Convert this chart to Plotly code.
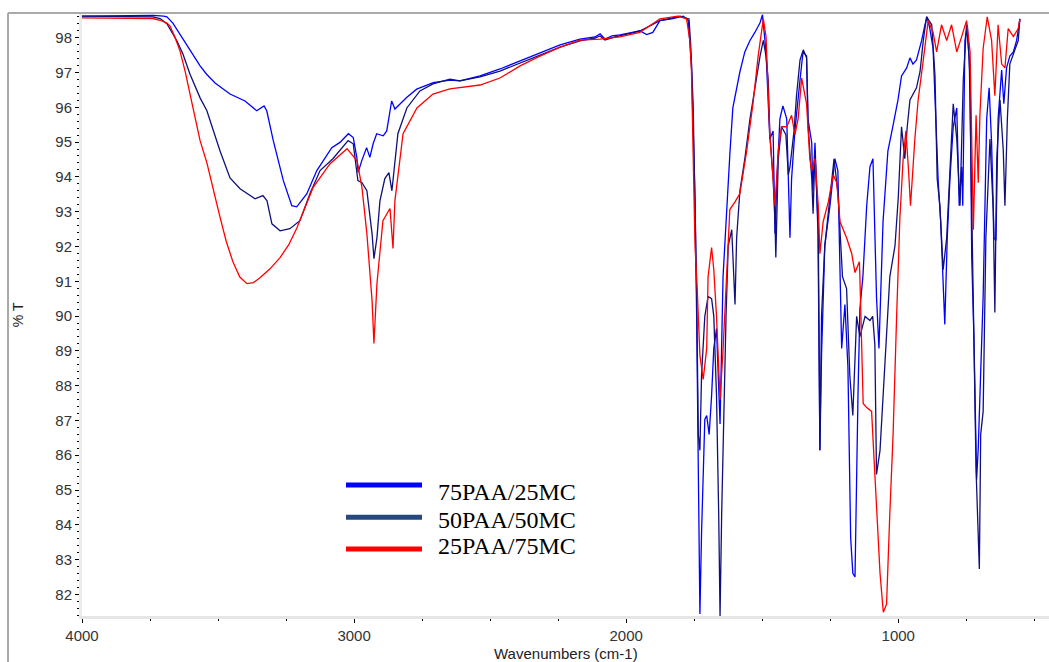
import plotly.graph_objects as go

# ---------------- data (wavenumber cm-1, %T) ----------------
wn_75 = [4000, 3787, 3739, 3700, 3688, 3666, 3640, 3614, 3566, 3542, 3511, 3456, 3401, 3358, 3331, 3321, 3297, 3260, 3229, 3211,
         3174, 3137, 3082, 3052, 3021, 3003, 2990, 2985, 2972, 2954, 2942, 2930, 2917, 2893, 2880,
         2862, 2850, 2807, 2770, 2709, 2648, 2611, 2537, 2464, 2390, 2317, 2243, 2170, 2115, 2096,
         2078, 2052, 2023, 1986, 1950, 1925, 1902, 1876, 1833, 1790, 1772, 1760, 1747, 1741, 1735,
         1729, 1723, 1711, 1704, 1695, 1686, 1678, 1668, 1655, 1644, 1631, 1619, 1608, 1594, 1582,
         1564, 1545, 1527, 1508, 1499, 1486, 1472, 1460, 1453, 1447, 1435, 1424, 1410, 1398, 1392,
         1380, 1361, 1350, 1337, 1332, 1318, 1314, 1306, 1295, 1288, 1282, 1270, 1251, 1233, 1222,
         1208, 1196, 1185, 1175, 1167, 1159, 1148, 1141, 1130, 1116, 1104, 1093, 1080, 1071, 1056,
         1038, 1020, 1001, 988, 969, 957, 946, 933, 914, 902, 894, 884, 872, 862, 853,
         844, 835, 829, 820, 810, 798, 785, 776, 767, 763, 755, 746, 736, 730, 722,
         712, 706, 697, 688, 675, 666, 657, 648, 641, 633, 620, 612, 602, 590, 577,
         565, 553]
t_75 = [98.62, 98.64, 98.64, 98.62, 98.60, 98.42, 98.10, 97.82, 97.19, 96.95, 96.70, 96.38, 96.18, 95.90, 96.04, 95.90, 95.04, 93.89, 93.17, 93.14,
        93.51, 94.18, 94.84, 94.99, 95.24, 95.13, 94.56, 94.13, 94.46, 94.84, 94.56, 94.95, 95.24, 95.18, 95.32,
        96.18, 95.95, 96.28, 96.52, 96.71, 96.78, 96.76, 96.90, 97.10, 97.33, 97.56, 97.79, 97.96, 98.02, 98.11,
        97.96, 98.05, 98.08, 98.14, 98.20, 98.09, 98.15, 98.49, 98.54, 98.62, 98.49, 97.24, 93.40, 89.99, 84.88,
        81.44, 83.76, 87.03, 87.14, 86.60, 87.72, 89.07, 89.64, 86.90, 91.13, 93.17, 94.64, 95.98, 96.56, 97.02,
        97.59, 97.92, 98.15, 98.43, 98.66, 97.59, 95.09, 95.32, 92.37, 93.74, 95.67, 96.04, 95.67, 92.25, 93.95,
        95.32, 96.79, 97.59, 97.47, 95.67, 94.98, 93.60, 94.98, 92.37, 86.14, 88.87, 92.02, 93.17, 94.52, 94.18,
        89.07, 90.33, 88.52, 83.64, 82.61, 82.50, 87.72, 90.21, 91.13, 93.17, 94.29, 94.52, 90.56, 89.07, 92.71,
        94.75, 95.44, 96.21, 96.90, 97.13, 97.42, 97.24, 97.36, 97.92, 98.37, 98.60, 98.26, 97.69, 95.67, 93.83,
        92.71, 91.13, 89.76, 92.25, 93.95, 95.44, 95.98, 93.17, 94.29, 93.17, 97.92, 98.37, 96.79, 91.68, 89.41,
        85.30, 86.20, 88.40, 90.56, 95.67, 96.56, 94.98, 92.25, 92.17, 95.67, 97.07, 96.10, 97.13, 97.47, 97.59,
        97.92, 98.54]

wn_50 = [4000, 3787, 3739, 3713, 3688, 3666, 3651, 3629, 3603, 3566, 3541, 3493, 3456, 3419, 3364, 3335, 3320, 3302, 3272,
         3236, 3199, 3162, 3125, 3078, 3052, 3022, 3003, 2986, 2971, 2953, 2934, 2927, 2916, 2905,
         2887, 2872, 2861, 2853, 2839, 2806, 2758, 2710, 2648, 2611, 2537, 2464, 2390, 2317, 2243,
         2170, 2115, 2096, 2078, 2041, 2005, 1950, 1876, 1802, 1769, 1763, 1754, 1747, 1741, 1735,
         1729, 1723, 1711, 1699, 1686, 1678, 1668, 1660, 1655, 1649, 1641, 1633, 1625, 1612, 1600,
         1594, 1582, 1564, 1545, 1527, 1508, 1496, 1486, 1478, 1472, 1460, 1453, 1450, 1441, 1429,
         1413, 1404, 1398, 1383, 1374, 1361, 1349, 1337, 1331, 1318, 1313, 1306, 1294, 1288, 1282,
         1270, 1251, 1236, 1221, 1212, 1205, 1190, 1178, 1167, 1153, 1141, 1122, 1104, 1094, 1086,
         1080, 1067, 1055, 1031, 1012, 1000, 988, 976, 967, 957, 933, 920, 908, 896, 877,
         865, 857, 847, 835, 822, 810, 798, 785, 773, 761, 749, 739, 730, 722, 714,
         702, 697, 688, 678, 663, 651, 645, 638, 626, 614, 608, 599, 590, 571, 559,
         553]
t_50 = [98.62, 98.62, 98.60, 98.55, 98.40, 98.11, 97.90, 97.53, 96.95, 96.27, 95.90, 94.75, 93.97, 93.66, 93.37, 93.46, 93.31, 92.65, 92.45,
        92.51, 92.74, 93.52, 94.18, 94.52, 94.75, 95.04, 94.95, 93.89, 93.83, 93.60, 92.37, 91.65, 92.25, 93.31,
        93.95, 94.12, 93.60, 94.26, 95.24, 95.98, 96.47, 96.67, 96.81, 96.76, 96.87, 97.04, 97.27, 97.50, 97.73,
        97.91, 97.99, 98.05, 97.93, 98.02, 98.08, 98.19, 98.49, 98.62, 98.54, 97.82, 96.10, 93.40, 90.67, 86.60,
        86.14, 88.29, 89.99, 90.56, 90.50, 89.99, 87.72, 84.33, 81.38, 84.33, 87.72, 89.99, 92.02, 92.48, 90.33,
        92.25, 93.60, 94.52, 95.67, 96.56, 97.47, 97.92, 97.47, 96.79, 95.21, 93.95, 92.71, 91.68, 94.52, 95.44,
        95.21, 94.06, 94.29, 95.32, 96.33, 97.36, 97.65, 97.42, 95.44, 93.95, 92.94, 94.75, 92.48, 86.14, 89.99,
        92.02, 93.40, 94.52, 93.49, 92.02, 91.13, 90.79, 88.29, 87.14, 89.99, 89.41, 89.99, 89.87, 89.99, 89.18,
        85.45, 86.14, 87.72, 91.13, 92.02, 93.40, 95.44, 94.52, 95.44, 96.21, 96.56, 97.02, 97.92, 98.60, 98.37,
        96.90, 93.95, 93.17, 91.33, 92.25, 94.18, 96.10, 95.09, 93.17, 96.79, 98.37, 97.36, 92.83, 88.29, 85.57,
        82.73, 86.60, 87.26, 92.25, 95.09, 93.06, 90.10, 94.52, 96.21, 94.75, 93.17, 95.67, 97.24, 97.69, 97.92,
        98.54]

wn_25 = [4000, 3787, 3739, 3713, 3688, 3677, 3660, 3640, 3620, 3603, 3585, 3566, 3541, 3517, 3493, 3470, 3445, 3420, 3394, 3370, 3346, 3310, 3272, 3240, 3210, 3151, 3089, 3026,
         2989, 2971, 2953, 2934, 2927, 2916, 2894, 2868, 2857, 2850, 2820, 2769, 2710, 2648, 2611,
         2537, 2464, 2390, 2317, 2243, 2170, 2096, 2023, 1950, 1876, 1810, 1778, 1766, 1760, 1754,
         1747, 1739, 1729, 1717, 1704, 1699, 1686, 1678, 1668, 1655, 1645, 1631, 1619, 1600, 1582,
         1557, 1534, 1515, 1496, 1486, 1472, 1460, 1453, 1441, 1429, 1410, 1392, 1380, 1368, 1355,
         1337, 1325, 1318, 1306, 1294, 1288, 1276, 1257, 1239, 1226, 1214, 1190, 1171, 1159, 1143,
         1141, 1129, 1116, 1098, 1086, 1067, 1055, 1043, 1031, 1019, 1006, 994, 982, 972, 963,
         955, 939, 927, 908, 890, 872, 859, 841, 822, 804, 785, 767, 749, 736, 724,
         714, 706, 700, 688, 673, 657, 645, 633, 620, 608, 596, 577, 559, 553]
t_25 = [98.57, 98.57, 98.55, 98.50, 98.42, 98.34, 98.05, 97.62, 97.00, 96.38, 95.75, 95.04, 94.40, 93.60, 92.85, 92.15, 91.55, 91.12, 90.93, 90.96, 91.10, 91.35, 91.68, 92.05, 92.54, 93.69, 94.37, 94.81,
        94.46, 93.69, 92.37, 90.45, 89.21, 90.93, 92.74, 93.09, 91.94, 93.31, 95.24, 95.98, 96.38, 96.53, 96.56,
        96.64, 96.84, 97.19, 97.47, 97.73, 97.93, 97.96, 98.02, 98.15, 98.54, 98.62, 98.54, 97.92, 97.02, 94.52,
        92.02, 90.79, 88.87, 88.18, 89.07, 91.13, 91.97, 91.33, 89.99, 87.60, 88.87, 91.13, 93.06, 93.28, 93.52,
        94.75, 96.10, 97.47, 98.54, 98.03, 95.21, 93.95, 93.17, 94.75, 95.44, 95.44, 95.77, 95.21, 95.67, 96.84,
        96.10, 94.52, 94.18, 94.52, 93.17, 91.79, 92.71, 93.28, 94.06, 93.83, 92.71, 92.25, 91.79, 91.25, 91.56,
        91.13, 87.49, 87.37, 87.26, 85.45, 82.61, 81.49, 81.72, 84.33, 86.60, 89.99, 92.83, 94.52, 95.32, 94.29,
        93.17, 95.09, 96.21, 97.36, 98.49, 98.15, 97.59, 98.37, 97.92, 98.37, 97.59, 98.03, 98.49, 97.59, 92.48,
        95.77, 93.83, 95.77, 97.69, 98.60, 97.92, 96.33, 98.37, 97.24, 97.13, 98.26, 98.03, 98.26, 98.54]

series_names = ["75PAA/25MC", "50PAA/50MC", "25PAA/75MC"]
line_colors = ["#0000ff", "#10107c", "#ff0000"]
legend_colors = ["#0000ff", "#23497e", "#ff0000"]

x_ticks = [4000, 3000, 2000, 1000]
y_ticks = list(range(82, 99))

# ---------------- figure ----------------
fig = go.Figure()
for name, xs, ys, col in zip(series_names, [wn_75, wn_50, wn_25], [t_75, t_50, t_25], line_colors):
    fig.add_trace(go.Scatter(x=xs, y=ys, mode="lines", name=name,
                             line=dict(color=col, width=1.3), hoverinfo="skip"))

axis_font = dict(family="Liberation Sans, Arial, sans-serif", size=15, color="#333333")

fig.update_layout(
    width=1049, height=662,
    margin=dict(l=82, r=0, t=14, b=46),
    paper_bgcolor="white", plot_bgcolor="white",
    showlegend=False,
    xaxis=dict(range=[4000, 446], tickvals=x_ticks, ticktext=[str(v) for v in x_ticks],
               showgrid=False, zeroline=False,
               showline=True, linecolor="#e6e6e6", linewidth=3,
               ticks="outside", ticklen=4, tickwidth=1, tickcolor="#000000",
               minor=dict(dtick=250, tick0=0, ticks="outside", ticklen=2, tickwidth=1, tickcolor="#000000"),
               tickfont=axis_font),
    yaxis=dict(range=[81.38, 98.68], tickvals=y_ticks, ticktext=[str(v) for v in y_ticks],
               showgrid=False, zeroline=False,
               showline=True, linecolor="#ececec", linewidth=3,
               ticks="outside", ticklen=4, tickwidth=1, tickcolor="#000000",
               minor=dict(dtick=0.2, tick0=0, ticks="outside", ticklen=2, tickwidth=1, tickcolor="#000000"),
               tickfont=axis_font),
)

# axis titles
fig.add_annotation(text="Wavenumbers (cm-1)", xref="paper", yref="paper", x=0.5, y=-0.0615,
                   xanchor="center", yanchor="middle", showarrow=False,
                   font=dict(family="Liberation Sans, Arial, sans-serif", size=15, color="#222222"))
fig.add_annotation(text="% T", xref="paper", yref="paper", x=-0.066, y=0.5,
                   xanchor="center", yanchor="middle", textangle=-90, showarrow=False,
                   font=dict(family="Liberation Sans, Arial, sans-serif", size=14, color="#222222"))

# outer frame (grey left and top lines)
fig.add_shape(type="line", xref="paper", yref="paper", x0=-0.0765, x1=1.0, y0=1.0017, y1=1.0017,
              line=dict(color="#a9a9a9", width=2))
fig.add_shape(type="line", xref="paper", yref="paper", x0=-0.0765, x1=-0.0765, y0=-0.08, y1=1.0017,
              line=dict(color="#a9a9a9", width=2))

# custom legend
leg_line_y = [0.2176, 0.1640, 0.1113]
leg_text_y = [0.2060, 0.1600, 0.1160]
for name, col, ly, ty in zip(series_names, legend_colors, leg_line_y, leg_text_y):
    fig.add_shape(type="line", xref="paper", yref="paper", x0=0.273, x1=0.3516, y0=ly, y1=ly,
                  line=dict(color=col, width=5))
    fig.add_annotation(text=name, xref="paper", yref="paper", x=0.366, y=ty,
                       xanchor="left", yanchor="middle", showarrow=False,
                       font=dict(family="Liberation Serif, Times New Roman, serif", size=24, color="#000000"))

fig.write_html("out.html", config={"displayModeBar": False})
